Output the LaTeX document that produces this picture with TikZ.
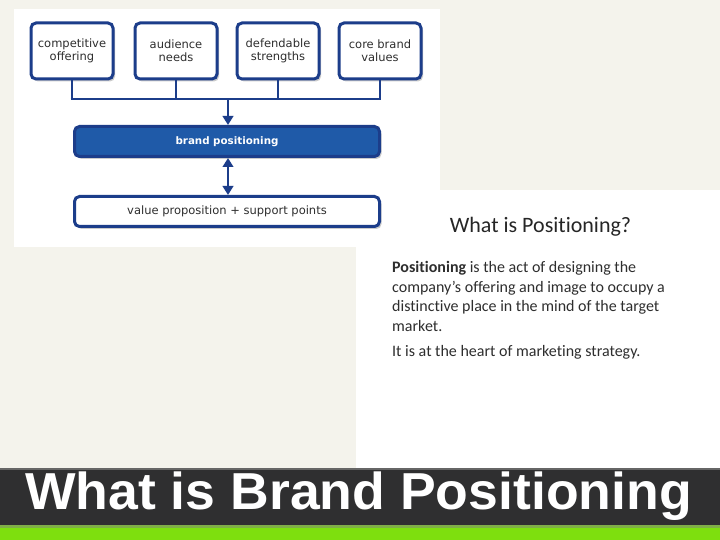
\documentclass[tikz,border=0pt]{standalone}
\usepackage{fontspec}
\setmainfont{Carlito}[Ligatures={NoCommon,NoContextual}]
\newfontfamily\dejavu{DejaVu Sans}
\newfontfamily\arialfont{Liberation Sans}
\usetikzlibrary{arrows.meta,shadows}
\definecolor{slidebg}{HTML}{F4F3EC}
\definecolor{boxblue}{HTML}{1C3D8A}
\definecolor{fillblue}{HTML}{1F5AA8}
\definecolor{textgrey}{HTML}{2E2E2E}
\definecolor{bardark}{HTML}{2F2F30}
\definecolor{bargreen}{HTML}{7EDF0E}

\begin{document}
\begin{tikzpicture}[x=1pt,y=-1pt,>={Triangle[width=10.5pt,length=9pt]},
  topbox/.style={draw=boxblue,line width=3pt,rounded corners=5pt,fill=white,
    minimum width=82pt,minimum height=56pt,align=center,text=textgrey,
    font=\dejavu\fontsize{11.5}{13}\selectfont,
    drop shadow={shadow xshift=2pt,shadow yshift=-2.5pt,fill=black!40}},
  widebox/.style={topbox,minimum width=305pt,minimum height=30pt},
  link/.style={draw=boxblue,line width=2.8pt}]
  % Configurable parameters
  \def\boxrow{51}
  \def\joiny{99}
  %
  % Slide background
  \fill[slidebg] (0,0) rectangle (720,540);
  \fill[white] (14,9) rectangle (440,247);
  \fill[white] (356,190) rectangle (720,468);
  %
  % Input boxes
  \node[topbox] (comp) at (72,\boxrow) {competitive\\offering};
  \node[topbox] (aud) at (176,\boxrow) {audience\\needs};
  \node[topbox] (def) at (278,\boxrow) {defendable\\strengths};
  \node[topbox] (core) at (380,\boxrow) {core brand\\values};
  %
  % Result boxes
  \node[widebox,fill=fillblue,text=white,font=\dejavu\bfseries\fontsize{10.3}{12}\selectfont]
    (brand) at (227,141.5) {brand positioning};
  \node[widebox] (value) at (227,211.5) {value proposition + support points};
  %
  % Connectors
  \coordinate (join) at (228,\joiny);
  \draw[link] (comp.south) -- (comp.south |- join);
  \draw[link] (aud.south) -- (aud.south |- join);
  \draw[link] (def.south) -- (def.south |- join);
  \draw[link] (core.south) -- (core.south |- join);
  \draw[link] ([xshift=-1.4pt]comp.south |- join) -- ([xshift=1.4pt]core.south |- join);
  \draw[link,->] (join) -- (join |- brand.north);
  \draw[link,<->] (join |- brand.south) -- (join |- value.north);
  %
  % Text panel
  \node[anchor=base,text=black!85,font=\fontsize{22}{26}\selectfont]
    (qtitle) at (540.5,232.5) {What is Positioning?};
  \node[anchor=north west,inner sep=0pt,align=left,text=textgrey,
    font=\fontsize{16}{19.7}\selectfont] (body) at (392,261)
    {\textbf{Positioning} is the act of designing the\\
     company's offering and image to occupy a\\
     distinctive place in the mind of the target\\
     market.\\[5pt]
     It is at the heart of marketing strategy.};
  %
  % Title bar
  \fill[bargreen] (0,525) rectangle (720,540);
  \fill[bardark,drop shadow={shadow xshift=0pt,shadow yshift=-3pt,fill=black!50}]
    (0,468) rectangle (720,525);
  \fill[black!60] (0,468) rectangle (720,470);
  \node[anchor=base,text=white,transform shape,xscale=1.03,
    font=\arialfont\bfseries\fontsize{52}{52}\selectfont]
    (title) at (358.5,509.5) {What is Brand Positioning};
  %
\end{tikzpicture}
\end{document}
